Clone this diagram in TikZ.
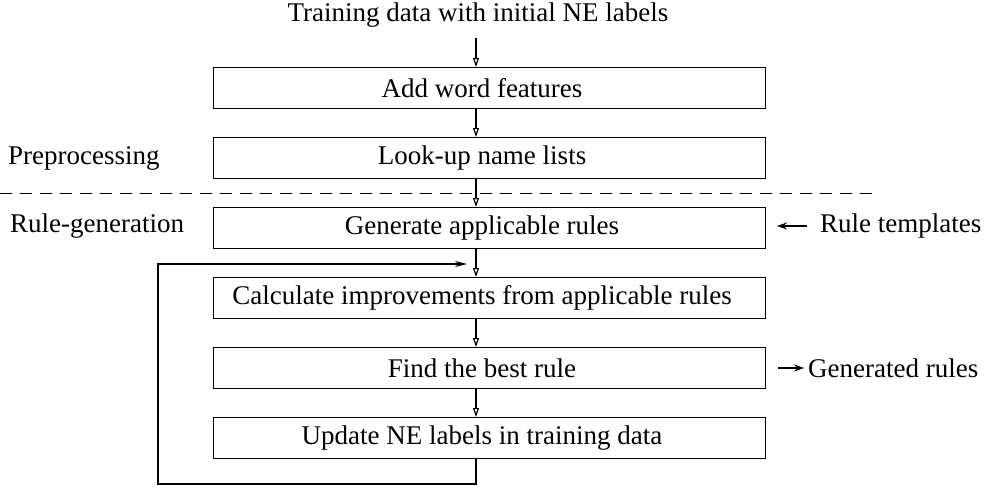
\documentclass[tikz,border=0pt]{standalone}
\usepackage{fontspec}
\setmainfont{Liberation Serif}
\usetikzlibrary{arrows.meta}
\begin{document}
\begin{tikzpicture}[x=1pt,y=-1pt,
  every node/.style={font=\fontsize{27}{32}\selectfont, inner sep=0pt},
  stepbox/.style={draw, line width=1.4pt, minimum width=552pt, minimum height=41pt, anchor=north west},
  flow/.style={line width=1.2pt, -{Triangle[width=6pt,length=9pt,open]}},
  side/.style={line width=1.2pt, -{Stealth[width=7pt,length=10pt]}}]
\useasboundingbox (0,0) rectangle (999,487);

% main column of steps
\node[stepbox] (b1) at (213,67)  {};
\node[stepbox] (b2) at (213,137) {};
\node[stepbox] (b3) at (213,207) {};
\node[stepbox] (b4) at (213,277) {};
\node[stepbox] (b5) at (213,347) {};
\node[stepbox] (b6) at (213,417) {};

\node (t1) at (482,88)  {Add word features};
\node (t2) at (482,158) {Look-up name lists};
\node (t3) at (482,228) {Generate applicable rules};
\node (t4) at (482,298) {Calculate improvements from applicable rules};
\node (t5) at (482,368) {Find the best rule};
\node (t6) at (482,438) {Update NE labels in training data};

\node (top) at (478,15) {Training data with initial NE labels};

% flow arrows along the column
\coordinate (c0) at (476,38);
\coordinate (c1a) at (476,108); \coordinate (c1b) at (476,137);
\coordinate (c2a) at (476,179); \coordinate (c2b) at (476,207);
\coordinate (c3a) at (476,249); \coordinate (c3b) at (476,277);
\coordinate (c4a) at (476,318); \coordinate (c4b) at (476,347);
\coordinate (c5a) at (476,388); \coordinate (c5b) at (476,417);
\draw[flow] (c0) -- (476,67);
\draw[flow] (c1a) -- (c1b);
\draw[flow] (c2a) -- (c2b);
\draw[flow] (c3a) -- (c3b);
\draw[flow] (c4a) -- (c4b);
\draw[flow] (c5a) -- (c5b);

% feedback loop
\coordinate (l0) at (476,458);
\coordinate (l1) at (476,484);
\coordinate (l2) at (158,484);
\coordinate (l3) at (158,264);
\coordinate (l4) at (467,264);
\draw[line width=1.2pt, -{Stealth[width=6pt,length=12pt]}] (l0) -- (l1) -- (l2) -- (l3) -- (l4);

% phase separator
\coordinate (d0) at (0,193);
\coordinate (d1) at (875,193);
\draw[line width=1pt, dash pattern=on 12pt off 8pt] (d0) -- (d1);

\node[anchor=west] (pre) at (8,158) {Preprocessing};
\node[anchor=west] (rg) at (10,226) {Rule-generation};

% external inputs and outputs
\node[anchor=west] (rt) at (820,226) {Rule templates};
\coordinate (rta) at (807,226);
\draw[side] (rta) -- (777,226);
\node[anchor=west] (gr) at (808,368) {Generated rules};
\coordinate (gra) at (778,368);
\draw[side] (gra) -- (804,368);
\end{tikzpicture}
\end{document}
